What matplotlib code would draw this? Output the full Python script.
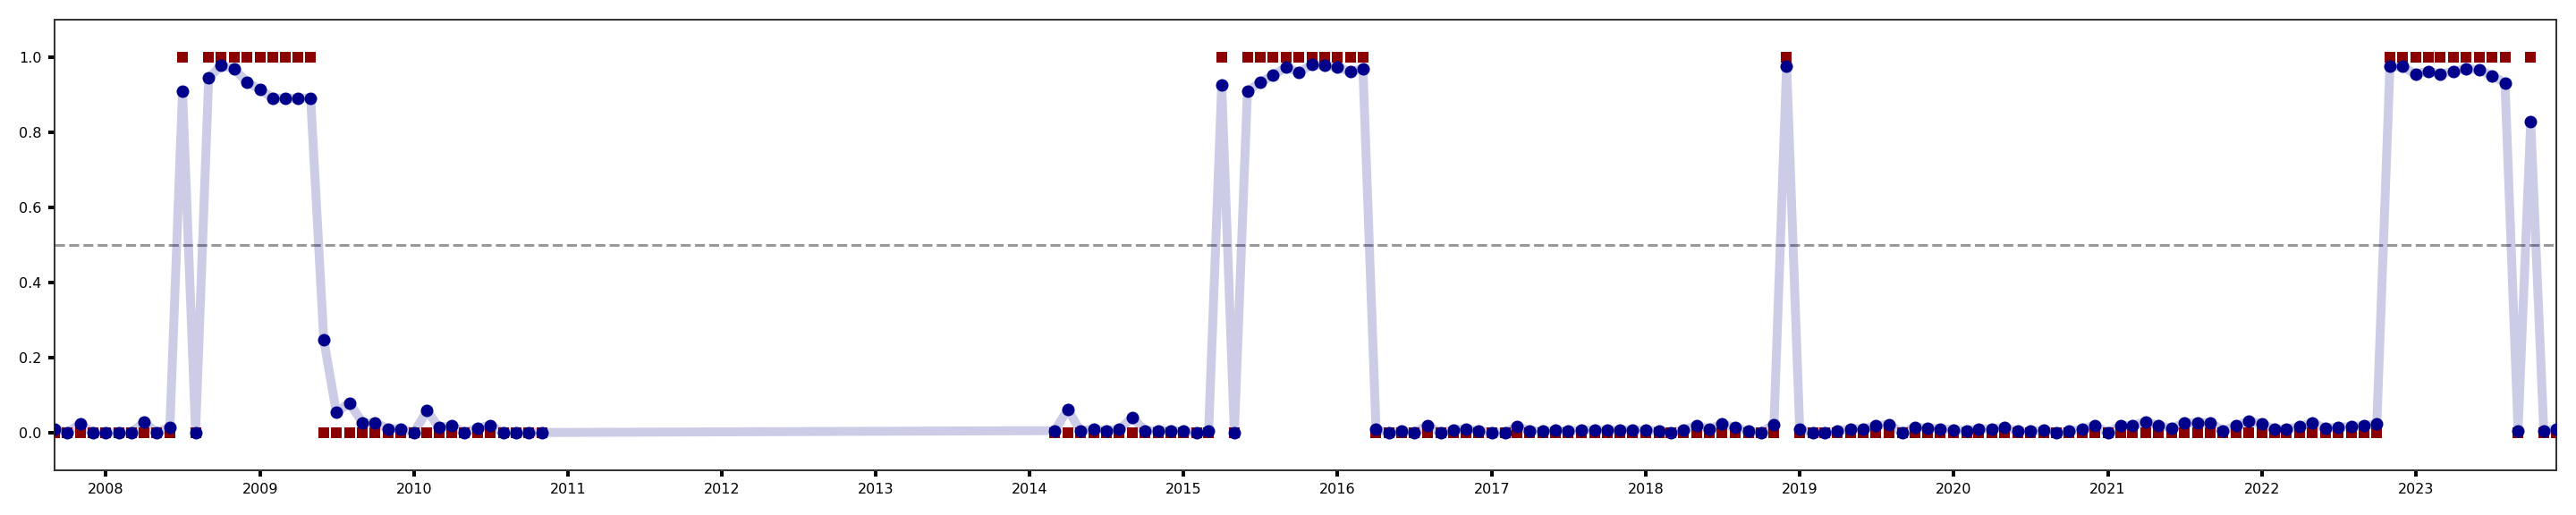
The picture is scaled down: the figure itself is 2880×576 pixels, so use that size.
import matplotlib
matplotlib.use('Agg')
import matplotlib.pyplot as plt
import matplotlib.dates as mdates
import pandas as pd

# monthly dates, with a gap between 2010-11 and 2014-03
dates = list(pd.date_range('2007-09-01', '2010-11-01', freq='MS')) + \
        list(pd.date_range('2014-03-01', '2023-12-01', freq='MS'))

# predicted probability (blue dots)
prob = [
    # 2007 (Sep-Dec)
    0.01, 0.0, 0.023, 0.0,
    # 2008
    0.0, 0.0, 0.0, 0.027, 0.0, 0.014, 0.91, 0.0, 0.944, 0.979, 0.968, 0.934,
    # 2009
    0.913, 0.891, 0.891, 0.891, 0.891, 0.248, 0.053, 0.079, 0.026, 0.026, 0.01, 0.01,
    # 2010 (Jan-Nov)
    0.0, 0.058, 0.014, 0.018, 0.0, 0.012, 0.019, 0.0, 0.0, 0.0, 0.0,
    # 2014 (Mar-Dec)
    0.005, 0.062, 0.003, 0.01, 0.005, 0.008, 0.04, 0.005, 0.005, 0.005,
    # 2015
    0.003, 0.0, 0.003, 0.925, 0.0, 0.909, 0.933, 0.952, 0.973, 0.96, 0.98, 0.978,
    # 2016
    0.973, 0.961, 0.97, 0.008, 0.0, 0.003, 0.0, 0.019, 0.0, 0.007, 0.01, 0.004,
    # 2017
    0.0, 0.0, 0.016, 0.005, 0.003, 0.006, 0.003, 0.007, 0.006, 0.006, 0.006, 0.006,
    # 2018
    0.006, 0.004, 0.0, 0.007, 0.019, 0.009, 0.023, 0.013, 0.003, 0.0, 0.022, 0.977,
    # 2019
    0.008, 0.0, 0.0, 0.003, 0.01, 0.01, 0.019, 0.021, 0.0, 0.014, 0.012, 0.01,
    # 2020
    0.007, 0.005, 0.01, 0.01, 0.014, 0.003, 0.003, 0.006, 0.0, 0.003, 0.009, 0.019,
    # 2021
    0.0, 0.018, 0.019, 0.029, 0.019, 0.011, 0.026, 0.025, 0.026, 0.005, 0.018, 0.031,
    # 2022
    0.023, 0.009, 0.009, 0.016, 0.026, 0.012, 0.014, 0.016, 0.019, 0.023, 0.975, 0.975,
    # 2023
    0.955, 0.963, 0.955, 0.963, 0.97, 0.966, 0.951, 0.932, 0.005, 0.828, 0.003, 0.01,
]

# actual regime (red squares)
actual = [
    0, 0, 0, 0,
    0, 0, 0, 0, 0, 0, 1, 0, 1, 1, 1, 1,
    1, 1, 1, 1, 1, 0, 0, 0, 0, 0, 0, 0,
    0, 0, 0, 0, 0, 0, 0, 0, 0, 0, 0,
    0, 0, 0, 0, 0, 0, 0, 0, 0, 0,
    0, 0, 0, 1, 0, 1, 1, 1, 1, 1, 1, 1,
    1, 1, 1, 0, 0, 0, 0, 0, 0, 0, 0, 0,
    0, 0, 0, 0, 0, 0, 0, 0, 0, 0, 0, 0,
    0, 0, 0, 0, 0, 0, 0, 0, 0, 0, 0, 1,
    0, 0, 0, 0, 0, 0, 0, 0, 0, 0, 0, 0,
    0, 0, 0, 0, 0, 0, 0, 0, 0, 0, 0, 0,
    0, 0, 0, 0, 0, 0, 0, 0, 0, 0, 0, 0,
    0, 0, 0, 0, 0, 0, 0, 0, 0, 0, 1, 1,
    1, 1, 1, 1, 1, 1, 1, 1, 0, 1, 0, 0,
]

threshold = 0.5

fig, ax = plt.subplots(figsize=(20, 4), dpi=144)

ax.plot(dates, prob, color='darkblue', alpha=0.2, lw=5, zorder=1)
ax.plot(dates, actual, 's', color='darkred', markersize=4.6, zorder=2)
ax.plot(dates, prob, 'o', color='darkblue', markersize=6, zorder=3)
ax.axhline(threshold, color='gray', ls='--', lw=1.5, alpha=0.8, zorder=0)

ax.set_xlim(dates[0], dates[-1])
ax.set_ylim(-0.1, 1.1)
ax.set_yticks([0.0, 0.2, 0.4, 0.6, 0.8, 1.0])
ax.xaxis.set_major_locator(mdates.YearLocator())
ax.xaxis.set_major_formatter(mdates.DateFormatter('%Y'))
ax.tick_params(labelsize=8, width=2, length=3.5)
for s in ax.spines.values():
    s.set_color('#333333')
    s.set_linewidth(1)

fig.subplots_adjust(left=0.0211, right=0.9924, top=0.9618, bottom=0.0873)
fig.savefig('out.png', dpi=144)
